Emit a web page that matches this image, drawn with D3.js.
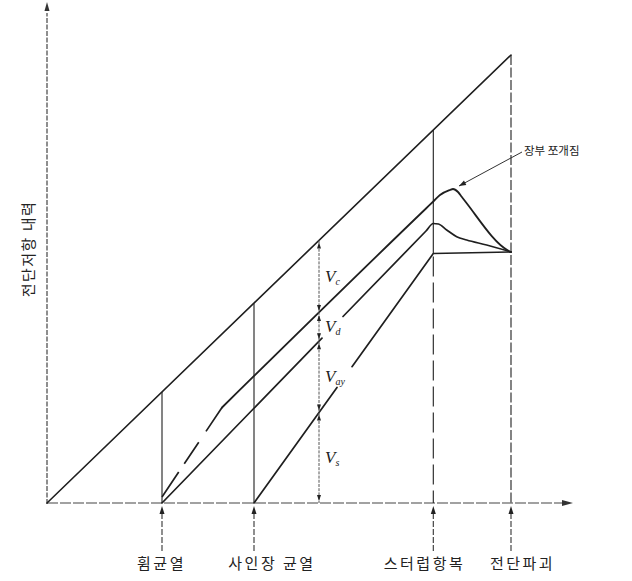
<!DOCTYPE html>
<html><head><meta charset="utf-8">
<script src="https://cdn.jsdelivr.net/npm/d3@7"></script>
<style>body{margin:0;background:#fff}svg{display:block}</style>
</head><body>
<svg id="c" width="632" height="581"></svg>
<script>
// ---------- data (domain units) ----------
const events = ["휨균열", "사인장 균열", "스터럽항복", "전단파괴"];
const eventX = [23, 41.4, 77.26, 92.8];
const eventLabelX = [22.8, 44.9, 75.4, 95];
const yTitle = "전단저항 내력";
const noteText = "장부 쪼개짐";

// total resistance (upper envelope)
const totalX = [0, 92.8];
const totalY = [0, 89.6];
// Vs + Vay + Vd line (with dowel splitting bump)
const dashX = [23, 35];
const dashY = [1.2, 19.1];
const line2X = [35, 75.8, 77.26, 78.6, 80.6, 81.2, 82.2, 82.94, 83.94, 92.2, 92.8];
const line2Y = [19.1, 58.9, 60.3, 61.6, 62.6, 62.8, 62.2, 61.26, 59.94, 50.5, 50.2];
// Vs + Vay line
const line3X = [23, 75.8, 77.26, 78.3, 79.94, 81.94, 83.94, 87.94, 92.8];
const line3Y = [0, 54.4, 55.9, 55.8, 54.6, 53.26, 52.6, 51.6, 50.2];
const line3Gap = [55.0, 59.2];
// Vs line
const line4X = [41.4, 77.26, 92.8];
const line4Y = [0, 49.9, 50.2];
const line4Gap = [58, 61];
// dimension line of the components
const dimX = 54.4;
const dimSubs = ["c", "d", "ay", "s"];
// note pointer
const noteFrom = [95, 70.2];
const noteTo = [82.4, 63.4];

// ---------- drawing ----------
const W = 632, H = 581;
const svg = d3.select("#c");
const x = d3.scaleLinear().domain([0, 100]).range([47, 547]);
const y = d3.scaleLinear().domain([0, 100]).range([503, 3]);
const ink = "#1f1f1f";

const zip = (a, b) => a.map((v, i) => [v, b[i]]);
function at(xs, ys, xv) {
  for (let i = 0; i < xs.length - 1; i++) {
    if (xv >= xs[i] && xv <= xs[i + 1]) {
      const t = (xv - xs[i]) / (xs[i + 1] - xs[i]);
      return ys[i] + t * (ys[i + 1] - ys[i]);
    }
  }
  return null;
}
function split(xs, ys, gap) {
  const a = [], b = [];
  xs.forEach((v, i) => {
    if (v < gap[0]) a.push([v, ys[i]]);
    else if (v > gap[1]) b.push([v, ys[i]]);
  });
  a.push([gap[0], at(xs, ys, gap[0])]);
  b.unshift([gap[1], at(xs, ys, gap[1])]);
  return [a, b];
}
const ln = d3.line().x(d => x(d[0])).y(d => y(d[1]));
const lnC = d3.line().x(d => x(d[0])).y(d => y(d[1])).curve(d3.curveMonotoneX);

function arrow(g, px, py, dir, len, w, color) {
  let p;
  if (dir === "up") p = [[px, py], [px - w / 2, py + len], [px + w / 2, py + len]];
  else if (dir === "down") p = [[px, py], [px - w / 2, py - len], [px + w / 2, py - len]];
  else p = [[px, py], [px - len, py - w / 2], [px - len, py + w / 2]];
  g.append("path").attr("d", "M" + p.map(q => q.join(",")).join("L") + "Z").attr("fill", color || ink);
}

// axes
const axG = svg.append("g");
axG.append("line").attr("x1", x(0)).attr("x2", x(0)).attr("y1", y(0) + 1).attr("y2", y(98))
  .attr("stroke", "#444").attr("stroke-width", 1.2).attr("stroke-dasharray", "5,1.5");
arrow(axG, x(0), y(100) - 1, "up", 9, 5, "#333");
axG.append("line").attr("x1", x(0)).attr("x2", x(103)).attr("y1", y(0)).attr("y2", y(0))
  .attr("stroke", "#444").attr("stroke-width", 1.2).attr("stroke-dasharray", "11,2");
arrow(axG, x(105.2), y(0), "right", 11, 6, "#333");

// vertical event lines
const vG = svg.append("g").attr("stroke", ink).attr("fill", "none");
eventX.forEach((ex, i) => {
  const top = at(totalX, totalY, ex);
  if (i < 2) {
    vG.append("line").attr("x1", x(ex)).attr("x2", x(ex)).attr("y1", y(top)).attr("y2", y(0)).attr("stroke-width", 1.1);
  } else if (i === 2) {
    const mid = at(line4X, line4Y, ex);
    vG.append("line").attr("x1", x(ex)).attr("x2", x(ex)).attr("y1", y(top)).attr("y2", y(mid)).attr("stroke-width", 1.1);
    vG.append("line").attr("x1", x(ex)).attr("x2", x(ex)).attr("y1", y(mid) + 3).attr("y2", y(0))
      .attr("stroke-width", 1.1).attr("stroke-dasharray", "20,6");
  } else {
    vG.append("line").attr("x1", x(ex)).attr("x2", x(ex)).attr("y1", y(top)).attr("y2", y(0))
      .attr("stroke-width", 1.1).attr("stroke-dasharray", "10,2.5");
  }
});

// event arrows below the axis
const eG = svg.append("g");
eventX.forEach(ex => {
  eG.append("line").attr("x1", x(ex)).attr("x2", x(ex)).attr("y1", y(0) + 10).attr("y2", y(0) + 48)
    .attr("stroke", "#333").attr("stroke-width", 1.1).attr("stroke-dasharray", "6,2");
  arrow(eG, x(ex), y(0) + 3, "up", 8, 5, "#222");
});

// event labels through a d3 axis
const labelAxis = d3.axisBottom(x).tickValues(eventLabelX).tickSize(0).tickPadding(0)
  .tickFormat((d, i) => events[i]);
const la = svg.append("g").attr("transform", `translate(0,${y(0) + 55})`).call(labelAxis);
la.select(".domain").remove();
la.selectAll("text").attr("font-family", "'Noto Sans CJK KR', sans-serif").attr("font-size", 15)
  .attr("letter-spacing", 2.5).attr("fill", "#222").attr("dy", "0.75em");

// main curves
const cG = svg.append("g").attr("fill", "none").attr("stroke", ink).attr("stroke-linejoin", "round").attr("stroke-linecap", "round");
cG.append("path").attr("d", ln(zip(totalX, totalY))).attr("stroke-width", 1.6);
cG.append("path").attr("d", ln(zip(dashX, dashY))).attr("stroke-width", 1.7).attr("stroke-linecap", "butt")
  .attr("stroke-dasharray", "30,10,26,13,60,0");
cG.append("path").attr("d", lnC(zip(line2X, line2Y))).attr("stroke-width", 1.8);
split(line3X, line3Y, line3Gap).forEach(seg => cG.append("path").attr("d", lnC(seg)).attr("stroke-width", 1.7));
split(line4X, line4Y, line4Gap).forEach(seg => cG.append("path").attr("d", ln(seg)).attr("stroke-width", 1.7));

// dimension line with components
const dG = svg.append("g");
const bounds = [at(totalX, totalY, dimX), at(line2X, line2Y, dimX), at(line3X, line3Y, dimX), at(line4X, line4Y, dimX), 0];
dG.append("line").attr("x1", x(dimX)).attr("x2", x(dimX)).attr("y1", y(bounds[0])).attr("y2", y(0))
  .attr("stroke", "#555").attr("stroke-width", 1).attr("stroke-dasharray", "3,1.2");
dimSubs.forEach((s, i) => {
  const t = y(bounds[i]), b = y(bounds[i + 1]);
  arrow(dG, x(dimX), t + 2, "up", 6, 4, "#222");
  arrow(dG, x(dimX), b - 2, "down", 6, 4, "#222");
  const tx = dG.append("text").attr("x", x(dimX) + 6).attr("y", (t + b) / 2 + 5)
    .attr("font-family", "'Liberation Serif', serif").attr("font-style", "italic").attr("font-size", 17).attr("fill", "#222");
  tx.append("tspan").text("V");
  tx.append("tspan").text(s).attr("font-size", 10).attr("dy", 3);
});

// note with pointer
const nG = svg.append("g");
nG.append("line").attr("x1", x(noteFrom[0])).attr("y1", y(noteFrom[1])).attr("x2", x(noteTo[0])).attr("y2", y(noteTo[1]))
  .attr("stroke", "#333").attr("stroke-width", 1);
{
  const ang = Math.atan2(y(noteTo[1]) - y(noteFrom[1]), x(noteTo[0]) - x(noteFrom[0]));
  const px = x(noteTo[0]), py = y(noteTo[1]), L = 7, w = 2.5;
  const bx = px - L * Math.cos(ang), by = py - L * Math.sin(ang);
  nG.append("path").attr("d", `M${px},${py}L${bx - w * Math.sin(ang)},${by + w * Math.cos(ang)}L${bx + w * Math.sin(ang)},${by - w * Math.cos(ang)}Z`).attr("fill", "#222");
}
nG.append("text").attr("x", x(noteFrom[0]) + 2).attr("y", y(noteFrom[1]) + 3)
  .attr("font-family", "'Noto Sans CJK KR', sans-serif").attr("font-size", 11.5).attr("letter-spacing", 0)
  .attr("fill", "#222").text(noteText);

// y title
svg.append("text").attr("transform", `translate(27,249) rotate(-90)`).attr("text-anchor", "middle")
  .attr("dominant-baseline", "central").attr("font-family", "'Noto Sans CJK KR', sans-serif")
  .attr("font-size", 15).attr("letter-spacing", 1.5).attr("fill", "#222").text(yTitle);
</script>
</body></html>
